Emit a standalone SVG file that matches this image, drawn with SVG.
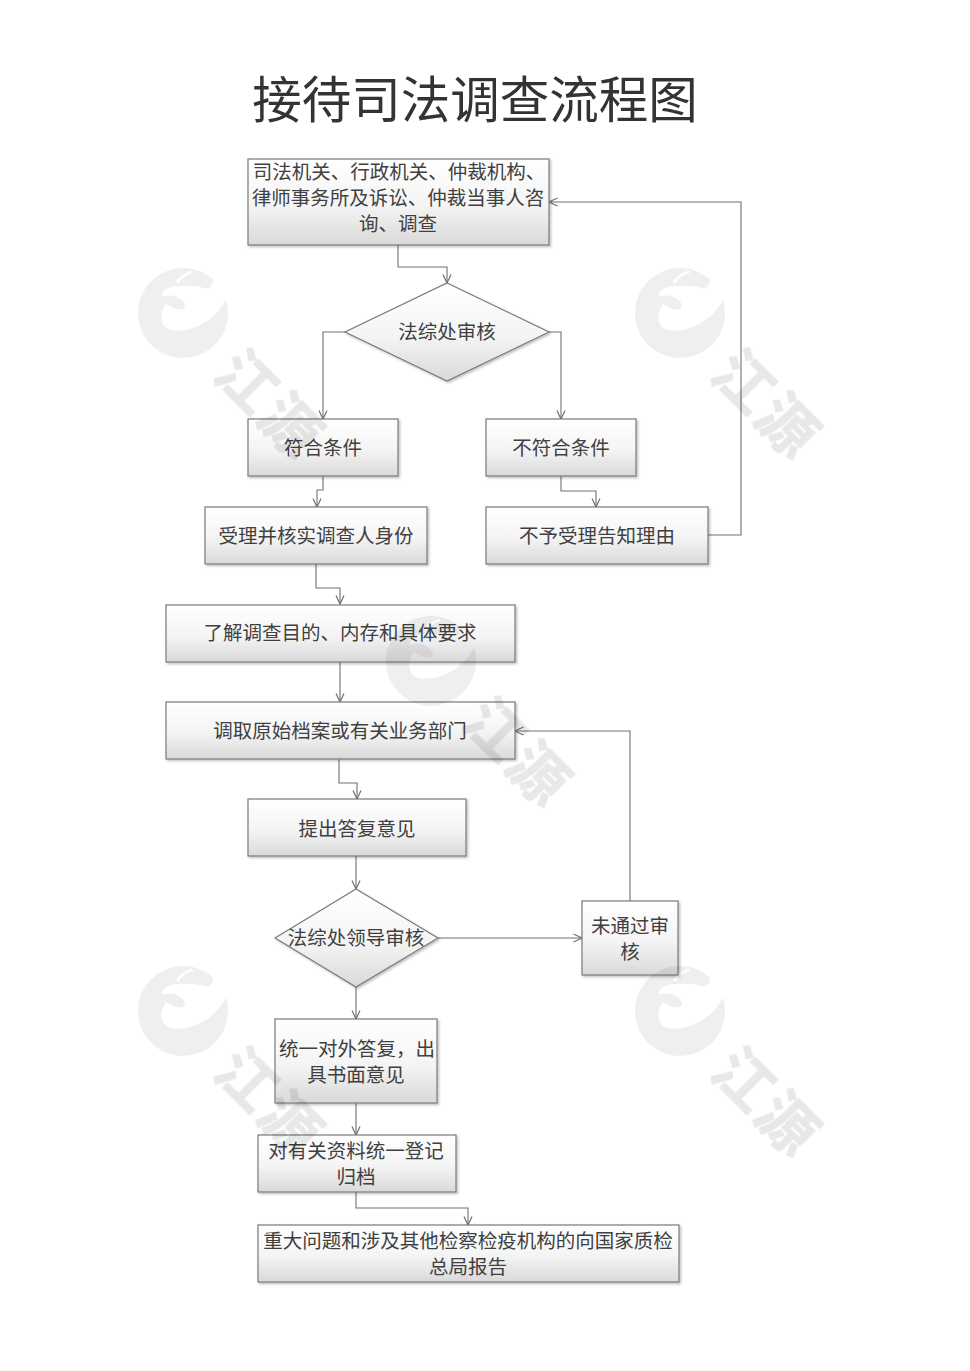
<svg xmlns="http://www.w3.org/2000/svg" width="970" height="1371" viewBox="0 0 970 1371">
<style>
text{font-family:"Noto Sans CJK SC","Noto Sans",sans-serif;fill:#404040;font-size:19.5px;text-anchor:middle}
.n{fill:url(#g);stroke:#7a7a7a;stroke-width:1.2;filter:url(#s)}
.c{fill:none;stroke:#707070;stroke-width:1.1;marker-end:url(#a)}
.title{font-size:49.5px;fill:#333}
.wt{font-size:58px;fill:#e8e8e8;stroke:#e8e8e8;stroke-width:1;stroke-linejoin:round;font-weight:700;letter-spacing:4px}
</style>
<defs>
<linearGradient id="g" x1="0" y1="0" x2="0" y2="1"><stop offset="0" stop-color="#ffffff"/><stop offset="0.55" stop-color="#f4f4f4"/><stop offset="1" stop-color="#d9d9d9"/></linearGradient>
<filter id="s" x="-5%" y="-5%" width="112%" height="115%"><feDropShadow dx="1.5" dy="1.5" stdDeviation="0.8" flood-color="#000" flood-opacity="0.25"/></filter>
<marker id="a" markerWidth="11" markerHeight="10" refX="9.5" refY="5" orient="auto" markerUnits="userSpaceOnUse"><path d="M1 1L9.5 5L1 9" fill="none" stroke="#707070" stroke-width="1.2"/></marker>
<g id="w">
<circle cx="0" cy="0" r="45" fill="#efefef"/>
<g transform="scale(.3333) translate(-150 -152)">
<path fill="#fff" d="M85 100C90 80 115 70 135 72C165 70 190 70 205 75C225 85 240 72 240 52L292 60L280 110C250 170 190 205 130 205C100 205 85 190 85 165C85 150 95 128 100 125C115 135 140 150 155 135C160 120 140 105 120 100C105 98 90 105 85 100Z"/>
<path fill="none" stroke="#fff" stroke-width="8" d="M132 62C140 48 155 35 178 28"/>
</g>
<text transform="translate(85 91) rotate(45)" x="2" y="20" class="wt">江源</text>
</g>
</defs>
<rect width="970" height="1371" fill="#fff"/>
<text class="title" x="475" y="118">接待司法调查流程图</text>
<g id="connectors">
<path class="c" d="M398 245V267H447V283"/>
<path class="c" d="M346 332H323V419"/>
<path class="c" d="M549 332H561V419"/>
<path class="c" d="M323 476V490H317V507"/>
<path class="c" d="M561 476V491H596V507"/>
<path class="c" d="M708 535H741V202H549"/>
<path class="c" d="M316 564V588H340V604"/>
<path class="c" d="M340 662V702"/>
<path class="c" d="M339 759V783H357V799"/>
<path class="c" d="M356 856V889"/>
<path class="c" d="M438 938H582"/>
<path class="c" d="M630 901V731H515"/>
<path class="c" d="M356 987V1019"/>
<path class="c" d="M356 1103V1135"/>
<path class="c" d="M356 1192V1208H468V1225"/>
</g>
<g id="n1"><rect class="n" x="248" y="159" width="301" height="86"/><text><tspan x="399" y="179">司法机关、行政机关、仲裁机构、</tspan><tspan x="398" y="205">律师事务所及诉讼、仲裁当事人咨</tspan><tspan x="398" y="231">询、调查</tspan></text></g>
<g id="n2"><path class="n" d="M447 283L549 332L447 381L345 332Z"/><text x="447" y="339">法综处审核</text></g>
<g id="n3"><rect class="n" x="248" y="419" width="150" height="57"/><text x="323" y="455">符合条件</text></g>
<g id="n4"><rect class="n" x="486" y="419" width="150" height="57"/><text x="561" y="455">不符合条件</text></g>
<g id="n5"><rect class="n" x="205" y="507" width="222" height="57"/><text x="316" y="543">受理并核实调查人身份</text></g>
<g id="n6"><rect class="n" x="486" y="507" width="222" height="57"/><text x="597" y="543">不予受理告知理由</text></g>
<g id="n7"><rect class="n" x="166" y="605" width="349" height="57"/><text x="340" y="640">了解调查目的、内存和具体要求</text></g>
<g id="n8"><rect class="n" x="166" y="702" width="349" height="57"/><text x="340" y="738">调取原始档案或有关业务部门</text></g>
<g id="n9"><rect class="n" x="248" y="799" width="218" height="57"/><text x="357" y="836">提出答复意见</text></g>
<g id="n10"><path class="n" d="M356 889L438 938L356 987L275 938Z"/><text x="356" y="945">法综处领导审核</text></g>
<g id="n11"><rect class="n" x="582" y="901" width="96" height="74"/><text><tspan x="630" y="933">未通过审</tspan><tspan x="630" y="959">核</tspan></text></g>
<g id="n12"><rect class="n" x="275" y="1019" width="162" height="84"/><text><tspan x="357" y="1056">统一对外答复，出</tspan><tspan x="356" y="1082">具书面意见</tspan></text></g>
<g id="n13"><rect class="n" x="258" y="1135" width="198" height="57"/><text><tspan x="356" y="1158">对有关资料统一登记</tspan><tspan x="356" y="1184">归档</tspan></text></g>
<g id="n14"><rect class="n" x="258" y="1225" width="421" height="57"/><text><tspan x="468" y="1248">重大问题和涉及其他检察检疫机构的向国家质检</tspan><tspan x="468" y="1274">总局报告</tspan></text></g>
<g id="watermarks" style="mix-blend-mode:multiply">
<use href="#w" x="183" y="313"/>
<use href="#w" x="680" y="313"/>
<use href="#w" x="431" y="661"/>
<use href="#w" x="183" y="1011"/>
<use href="#w" x="680" y="1011"/>
</g>
</svg>
